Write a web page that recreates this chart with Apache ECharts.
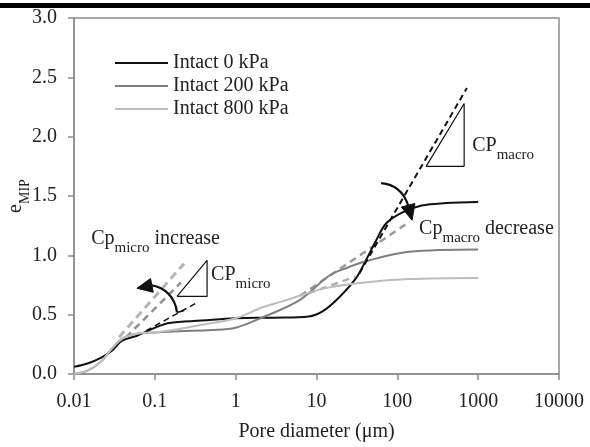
<!DOCTYPE html>
<html><head><meta charset="utf-8">
<script src="https://cdn.jsdelivr.net/npm/echarts@6/dist/echarts.min.js"></script>
<style>html,body{margin:0;padding:0;background:#fff}#c{width:590px;height:447px}</style>
</head><body><div id="c"></div>
<script>
const FONT = '"Liberation Serif","Times New Roman",serif';
const seriesNames = ['Intact 0 kPa', 'Intact 200 kPa', 'Intact 800 kPa'];
const xTickLabels = ['0.01', '0.1', '1', '10', '100', '1000', '10000'];
const yTickLabels = ['0.0', '0.5', '1.0', '1.5', '2.0', '2.5', '3.0'];

// Intact 0 kPa
const pore0 = [0.01, 0.015, 0.022, 0.03, 0.039, 0.059, 0.093, 0.15, 0.38, 1, 3, 8, 12, 19, 31, 41, 55, 73, 114, 200, 400, 1000];
const e0    = [0.06, 0.09, 0.14, 0.20, 0.28, 0.32, 0.38, 0.43, 0.45, 0.47, 0.475, 0.485, 0.53, 0.645, 0.81, 0.96, 1.13, 1.27, 1.36, 1.42, 1.44, 1.45];
// Intact 200 kPa
const pore200 = [0.01, 0.015, 0.022, 0.03, 0.04, 0.06, 0.1, 0.2, 0.5, 1, 2.2, 6.1, 14.5, 25, 36, 140, 1000];
const e200    = [0.0, 0.03, 0.11, 0.22, 0.30, 0.34, 0.35, 0.36, 0.37, 0.39, 0.48, 0.62, 0.83, 0.90, 0.94, 1.03, 1.05];
// Intact 800 kPa
const pore800 = [0.01, 0.015, 0.022, 0.03, 0.04, 0.06, 0.1, 0.2, 0.355, 1, 2.1, 3.7, 14.5, 140, 1000];
const e800    = [0.0, 0.03, 0.11, 0.22, 0.30, 0.34, 0.35, 0.38, 0.41, 0.47, 0.56, 0.61, 0.73, 0.80, 0.81];

// tangent (CP) lines
const tanMicro0   = [[0.078, 0.365], [0.33, 0.60]];
const tanMicro200 = [[0.044, 0.31], [0.21, 0.77]];
const tanMicro800 = [[0.036, 0.31], [0.23, 0.93]];
const tanMacro0   = [[34, 0.85], [725, 2.41]];
const tanMacro200 = [[6.3, 0.66], [126, 1.26]];
const tanMacro800 = [[8, 0.68], [30, 0.82]];
// slope triangles
const triMacro = [[227, 1.75], [671, 1.75], [671, 2.28], [227, 1.75]];
const triMicro = [[0.188, 0.654], [0.443, 0.654], [0.443, 0.958], [0.188, 0.654]];
// annotation anchors (data coordinates)
const arrowMicro = {p0: [0.188, 0.519], c1: [0.178, 0.654], c2: [0.13, 0.73], p1: [0.092, 0.747], tip: [0.06, 0.722]};
const arrowMicroTail = [[0.188, 0.519], [0.23, 0.535]];
const arrowMacro = {p0: [63, 1.608], c1: [94, 1.599], c2: [121, 1.523], p1: [136, 1.422], tip: [152, 1.295]};
const labelCpMicroInc = [0.0163, 1.127];
const labelCpMacroDec = [186, 1.21];
const labelCPmacro = [843, 1.91];
const labelCPmicro = [0.497, 0.82];

const zip = (xs, ys) => xs.map((x, i) => [x, ys[i]]);
const AXIS_GRAY = '#8c8c8c';

const chart = echarts.init(document.getElementById('c'), null, {renderer: 'canvas'});

function lineSeries(name, data, color, width, type, z) {
  return {
    name: name, type: 'line', data: data, symbol: 'none', smooth: false,
    lineStyle: {color: color, width: width, type: type}, itemStyle: {color: color},
    silent: true, animation: false, z: z || 2
  };
}

const curve = (name, data, color) => Object.assign(lineSeries(name, data, color, 2, 'solid', 3), {smooth: 0.35});

chart.setOption({
  animation: false,
  backgroundColor: '#fff',
  grid: {left: 74, right: 31, top: 18, bottom: 73, show: true, borderColor: AXIS_GRAY, borderWidth: 1.5,
    backgroundColor: 'transparent', containLabel: false, outerBoundsMode: 'none'},
  legend: {
    data: seriesNames, orient: 'vertical', left: 110, top: 48,
    icon: 'rect', itemWidth: 53, itemHeight: 2, itemGap: 3,
    textStyle: {fontFamily: FONT, fontSize: 20, color: '#222'},
    selectedMode: false
  },
  xAxis: {
    type: 'log', logBase: 10, min: 0.01, max: 10000, splitNumber: 6,
    name: 'Pore diameter (\u03bcm)', nameLocation: 'middle', nameGap: 48, nameMoveOverlap: false,
    nameTextStyle: {fontFamily: FONT, fontSize: 20, color: '#222'},
    axisLine: {lineStyle: {color: AXIS_GRAY, width: 1.5}},
    axisTick: {show: true, length: 6, lineStyle: {color: AXIS_GRAY, width: 1.5}},
    axisLabel: {fontFamily: FONT, fontSize: 20, color: '#222', margin: 18,
      formatter: v => xTickLabels[Math.round(Math.log10(v)) + 2]},
    splitLine: {show: false}, minorTick: {show: false}
  },
  yAxis: {
    type: 'value', min: 0, max: 3, interval: 0.5,
    name: '{e|e}{s|MIP}', nameLocation: 'middle', nameGap: 44, nameRotate: 90, nameMoveOverlap: false,
    nameTextStyle: {rich: {
      e: {fontFamily: FONT, fontSize: 20, color: '#222', lineHeight: 24, verticalAlign: 'top'},
      s: {fontFamily: FONT, fontSize: 14, color: '#222', lineHeight: 14, padding: [12, 0, 0, 0], verticalAlign: 'top'}
    }},
    axisLine: {show: true, lineStyle: {color: AXIS_GRAY, width: 1.5}},
    axisTick: {show: true, length: 6, lineStyle: {color: AXIS_GRAY, width: 1.5}},
    axisLabel: {fontFamily: FONT, fontSize: 20, color: '#222', margin: 17,
      formatter: v => yTickLabels[Math.round(v * 2)]},
    splitLine: {show: false}
  },
  series: [
    curve(seriesNames[0], zip(pore0, e0), '#111111'),
    curve(seriesNames[1], zip(pore200, e200), '#7f7f7f'),
    curve(seriesNames[2], zip(pore800, e800), '#bdbdbd'),
    lineSeries('t1', tanMicro800, '#b5b5b5', 3, [8, 5]),
    lineSeries('t2', tanMicro200, '#8f8f8f', 2.5, [7, 5]),
    lineSeries('t3', tanMicro0, '#111', 1.5, [6, 4]),
    lineSeries('t4', tanMacro200, '#9a9a9a', 2.5, [7, 5]),
    lineSeries('t5', tanMacro800, '#b0b0b0', 2.5, [7, 5]),
    lineSeries('t6', tanMacro0, '#111', 2, [6, 4], 4),
    lineSeries('tr1', triMacro, '#111', 1.2, 'solid'),
    lineSeries('tr2', triMicro, '#111', 1.2, 'solid'),
    lineSeries('tail', arrowMicroTail, '#111', 1.5, 'solid')
  ]
});

function px(p) { return chart.convertToPixel({gridIndex: 0}, p); }

function arrow(a) {
  const p0 = px(a.p0), c1 = px(a.c1), c2 = px(a.c2), p1 = px(a.p1), tip = px(a.tip);
  const dx = tip[0] - p1[0], dy = tip[1] - p1[1];
  const len = Math.sqrt(dx * dx + dy * dy) || 1;
  const nx = -dy / len, ny = dx / len, w = 7;
  return [
    {type: 'bezierCurve', silent: true, z: 10,
      shape: {x1: p0[0], y1: p0[1], cpx1: c1[0], cpy1: c1[1], cpx2: c2[0], cpy2: c2[1], x2: p1[0], y2: p1[1]},
      style: {stroke: '#111', lineWidth: 2.2, fill: null}},
    {type: 'polygon', silent: true, z: 10,
      shape: {points: [[tip[0], tip[1]], [p1[0] + nx * w, p1[1] + ny * w], [p1[0] - nx * w, p1[1] - ny * w]]},
      style: {fill: '#111', stroke: '#111', lineWidth: 1}}
  ];
}

const richStyles = {
  b: {fontFamily: FONT, fontSize: 20, fill: '#222', color: '#222', lineHeight: 24, verticalAlign: 'top'},
  s: {fontFamily: FONT, fontSize: 15, fill: '#222', color: '#222', lineHeight: 15, padding: [12, 0, 0, 0], verticalAlign: 'top'}
};
function label(pos, text) {
  const p = px(pos);
  return {type: 'text', silent: true, z: 10, x: p[0], y: p[1],
    style: {text: text, rich: richStyles, align: 'left', verticalAlign: 'middle', fill: '#222'}};
}

chart.setOption({
  graphic: [
    {type: 'rect', silent: true, shape: {x: 0, y: 3, width: 590, height: 5}, style: {fill: '#000'}},
    ...arrow(arrowMicro),
    ...arrow(arrowMacro),
    label(labelCpMicroInc, '{b|Cp}{s|micro}{b| increase}'),
    label(labelCpMacroDec, '{b|Cp}{s|macro}{b| decrease}'),
    label(labelCPmacro, '{b|CP}{s|macro}'),
    label(labelCPmicro, '{b|CP}{s|micro}')
  ]
});
</script>
</body></html>
